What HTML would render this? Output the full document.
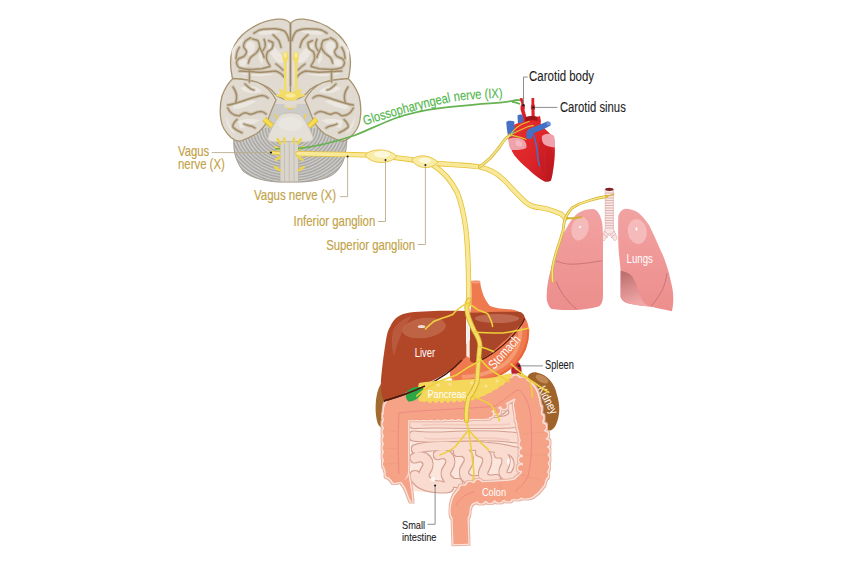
<!DOCTYPE html>
<html><head><meta charset="utf-8">
<style>
html,body{margin:0;padding:0;background:#fff;width:850px;height:567px;overflow:hidden}
svg{display:block}
text{font-family:"Liberation Sans",sans-serif}
</style></head><body>
<svg width="850" height="567" viewBox="0 0 850 567">
<rect width="850" height="567" fill="#fff"/>
<defs>
  <filter id="colOut" x="-10%" y="-10%" width="120%" height="120%">
    <feMorphology in="SourceAlpha" operator="dilate" radius="1.6" result="d2"/>
    <feFlood flood-color="#e8b4a4" result="c2"/><feComposite in="c2" in2="d2" operator="in" result="o2"/>
    <feMorphology in="SourceAlpha" operator="dilate" radius="0.9" result="d1"/>
    <feFlood flood-color="#fbe4dc" result="c1"/><feComposite in="c1" in2="d1" operator="in" result="o1"/>
    <feMerge><feMergeNode in="o2"/><feMergeNode in="o1"/><feMergeNode in="SourceGraphic"/></feMerge>
  </filter>
  <filter id="siOut" x="-10%" y="-10%" width="120%" height="120%">
    <feMorphology in="SourceAlpha" operator="dilate" radius="0.75" result="d2"/>
    <feFlood flood-color="#d6a090" result="c2"/><feComposite in="c2" in2="d2" operator="in" result="o2"/>
    <feMerge><feMergeNode in="o2"/><feMergeNode in="SourceGraphic"/></feMerge>
  </filter>
</defs>

<!-- ================= BRAIN ================= -->
<g id="brain">
  <!-- gray base (cerebellum + midbrain) -->
  <clipPath id="cbClip"><path d="M234,138 C233,150 235,160 243,171 C250,177 262,181 278,182 L302,182 C318,181 330,178 336,172 C343,165 346,157 347,138 L325,128 L256,128 Z"/></clipPath>
  <path d="M234,138 C233,150 235,160 243,171 C250,177 262,181 278,182 L302,182 C318,181 330,178 336,172 C343,165 346,157 347,138 L312,100 L270,100 Z" fill="#cdcbc8"/>
  <g clip-path="url(#cbClip)" fill="none" stroke="#aaa8a5" stroke-width="1.45"><ellipse cx="290" cy="128" rx="9.0" ry="7.6"/><ellipse cx="290" cy="128" rx="12.1" ry="10.3"/><ellipse cx="290" cy="128" rx="15.2" ry="12.9"/><ellipse cx="290" cy="128" rx="18.3" ry="15.6"/><ellipse cx="290" cy="128" rx="21.4" ry="18.2"/><ellipse cx="290" cy="128" rx="24.5" ry="20.8"/><ellipse cx="290" cy="128" rx="27.6" ry="23.5"/><ellipse cx="290" cy="128" rx="30.7" ry="26.1"/><ellipse cx="290" cy="128" rx="33.8" ry="28.7"/><ellipse cx="290" cy="128" rx="36.9" ry="31.4"/><ellipse cx="290" cy="128" rx="40.0" ry="34.0"/><ellipse cx="290" cy="128" rx="43.1" ry="36.6"/><ellipse cx="290" cy="128" rx="46.2" ry="39.3"/><ellipse cx="290" cy="128" rx="49.3" ry="41.9"/><ellipse cx="290" cy="128" rx="52.4" ry="44.5"/><ellipse cx="290" cy="128" rx="55.5" ry="47.2"/><ellipse cx="290" cy="128" rx="58.6" ry="49.8"/><ellipse cx="290" cy="128" rx="61.7" ry="52.4"/><ellipse cx="290" cy="128" rx="64.8" ry="55.1"/><ellipse cx="290" cy="128" rx="67.9" ry="57.7"/><ellipse cx="290" cy="128" rx="71.0" ry="60.4"/><ellipse cx="290" cy="128" rx="74.1" ry="63.0"/><ellipse cx="290" cy="128" rx="77.2" ry="65.6"/></g>
  <path d="M234,138 C233,150 235,160 243,171 C250,177 262,181 278,182 L302,182 C318,181 330,178 336,172 C343,165 346,157 347,138" fill="none" stroke="#a89f92" stroke-width="1"/>
  <!-- base silhouette to avoid gaps -->
  <path d="M272,88 L309,88 L303,101 L278,101 Z" fill="#e0dad0"/>
  <path d="M283,100 C287,99 294,99 298,100 L296,107 C292,109 289,109 285,107 Z" fill="#dcd7cf"/>
  <!-- left hemisphere (mirrored for right) -->
  <g id="hemi">
    <path d="M232,77 C250,79 262,82 266,84 L284,84 L284,104 L268,104 Z" fill="#e0dad0"/>
    <!-- frontal lobe -->
    <path d="M290.5,23.5 C288,20 284,18.6 277,19.2 C266,20.5 255,25 247,31 C240,36 235,43 232.5,50 C230,57 230,66 232,76 C232,78 233,79 234,79 C248,79.5 262,83 271,89.6 L277,96 L284,99 L290.5,100 Z" fill="#e0dad0" stroke="#a8936f" stroke-width="1.3"/>
    <!-- temporal lobe -->
    <path d="M233,78.5 C229,82 225,88 222,96 C220,104 220,114 221,120 C222,127 226,133 231,137.5 C234,140 238,142 242,140.5 C248,138 252,136 256,134 C262,130 266,124 268,119.6 C270,114 272,109 276,100 C272,92 266,86 258,82.5 C250,80 240,79 233,78.5 Z" fill="#e0dad0" stroke="#a8936f" stroke-width="1.3"/>
    <!-- light gyri highlights -->
    <g fill="#ece8e1">
      <path d="M257,31 C266,27.5 276,27 283,29 C280,33 272,34 264,35 C260,35 257,34 257,31 Z"/>
      <path d="M247,43 C250,40 254,41 255,45 C256,50 252,54 249,56 C246,52 245,47 247,43 Z"/>
      <path d="M239,62 C242,58 247,58 248,62 C247,66 243,67 240,66 Z"/>
      <path d="M261,50 C263,54 264,60 262,64 C258,60 258,54 261,50 Z"/>
      <path d="M268,44 C274,46 280,52 285,60 C282,66 276,62 272,56 C269,52 268,48 268,44 Z"/>
      <path d="M240,73 C250,72 262,72 274,74 C264,77 250,77 240,73 Z"/>
      <path d="M232,50 C235,44 240,40 244,38 C240,46 236,54 234,62 C232,58 231,54 232,50 Z"/>
      <path d="M240,88 C248,84 258,86 262,92 C254,94 246,94 240,88 Z"/>
      <path d="M232,104 C238,99 250,99 256,101 C250,106 240,109 234,109 Z"/>
      <path d="M238,121 C246,118 254,119 260,120 C254,124 246,128 240,128 Z"/>
      <path d="M226,116 C228,122 232,130 236,134 C230,132 226,124 226,116 Z"/>
      <path d="M288,58 C289,66 288,76 287,86 L284,86 C285,76 286,66 288,58 Z" opacity="0.6"/>
    </g>
    <!-- sulci -->
    <g fill="none" stroke="#c8bda9" stroke-width="3.6" stroke-linecap="round" stroke-linejoin="round" opacity="0.7">
      <path d="M254,33.2 C257,31 260,29.5 263,29.3 C267,28.8 271,28.6 275.4,28.7 C279,29 282,29.8 284.4,31 C286.5,33 288,36 289,40.6"/>
      <path d="M250.6,37.8 C248,39 246,40 245,41.7 C243.5,43.5 243.5,45.5 243.8,47.3 C244.5,49 246.8,50.5 246.6,51.9 C246,54 245,55.5 243.8,56.4 C242,57.5 240,57.8 238.7,58.6 C237,60 236.3,61.5 236.5,63.1 C237,65.5 238,67 239.3,67.7 C243,69 247,69.5 250.6,69.4 C254,69.3 258,69 261.9,68.8 C264.5,68 267.5,67.2 269.8,66.5"/>
      <path d="M249.4,69.4 C249.5,73 249.5,78 249.4,82"/>
      <path d="M252.3,38.9 C254,39.5 256.5,39.5 257.9,40.6 C259,42.5 259.8,45 259.6,47.3 C259,49.5 257.5,51.5 256.2,53 C254,55 252,56 250.6,57.5 C249.5,59 248.8,61 248.3,63.1"/>
      <path d="M259.6,47.3 C260.5,49 261.3,50.5 261.9,51.9 C262.8,53.5 263.6,55.5 264.1,57.5"/>
      <path d="M264.1,39.4 C265,41.5 265.5,44 265.2,46.2 C264.8,48 263.8,49.5 263,50.7"/>
      <path d="M268.6,40.6 C270,41.2 271.8,41.8 273.1,42.8 C273.2,44.5 272.8,46.5 272,48.5 C270.5,50 268.8,51 267.5,51.9 C266.5,54 266.2,56.5 266.4,58.6 C267,61 268.5,63.5 269.8,65.4"/>
      <path d="M273.1,34.9 C275,36.5 277,38.5 278.8,40.6 C279.8,42.5 280.5,45 281,47.3"/>
      <path d="M239.3,47.3 C238.2,49 237.5,50.5 237,51.9 C236.5,54 236.2,56.5 235.9,58.6"/>
      <path d="M239.3,71 C246,71.5 254,72 261.9,72.2 C266,72 271,71.5 275.4,71 C279,72 282,74 284,77"/>
      <path d="M276,64 C279,66 281,68 283,70"/>
      <path d="M233,87 C238,94 237,99 235.6,102.6"/>
      <path d="M227.7,105 C236,104 244,100 259,96 C263,95 266,96 268,98"/>
      <path d="M227.7,108 C230,113 234,116 239.5,115.7 C244,112 246,112 250,114.4 C254,114 256,112 259,111.8 C262,111 264,112 266,114"/>
      <path d="M236.9,119.6 C234,122 232,126 233,127.4 C236,130 240,132 242,132.7"/>
      <path d="M255,128 C250,124 246,126 244,124"/>
      <path d="M245,84 C249,88 252,90 254,90"/>
    </g>
    <g fill="none" stroke="#a38c68" stroke-width="1.5" stroke-linecap="round" stroke-linejoin="round">
      <path d="M254,33.2 C257,31 260,29.5 263,29.3 C267,28.8 271,28.6 275.4,28.7 C279,29 282,29.8 284.4,31 C286.5,33 288,36 289,40.6"/>
      <path d="M250.6,37.8 C248,39 246,40 245,41.7 C243.5,43.5 243.5,45.5 243.8,47.3 C244.5,49 246.8,50.5 246.6,51.9 C246,54 245,55.5 243.8,56.4 C242,57.5 240,57.8 238.7,58.6 C237,60 236.3,61.5 236.5,63.1 C237,65.5 238,67 239.3,67.7 C243,69 247,69.5 250.6,69.4 C254,69.3 258,69 261.9,68.8 C264.5,68 267.5,67.2 269.8,66.5"/>
      <path d="M249.4,69.4 C249.5,73 249.5,78 249.4,82"/>
      <path d="M252.3,38.9 C254,39.5 256.5,39.5 257.9,40.6 C259,42.5 259.8,45 259.6,47.3 C259,49.5 257.5,51.5 256.2,53 C254,55 252,56 250.6,57.5 C249.5,59 248.8,61 248.3,63.1"/>
      <path d="M259.6,47.3 C260.5,49 261.3,50.5 261.9,51.9 C262.8,53.5 263.6,55.5 264.1,57.5"/>
      <path d="M264.1,39.4 C265,41.5 265.5,44 265.2,46.2 C264.8,48 263.8,49.5 263,50.7"/>
      <path d="M268.6,40.6 C270,41.2 271.8,41.8 273.1,42.8 C273.2,44.5 272.8,46.5 272,48.5 C270.5,50 268.8,51 267.5,51.9 C266.5,54 266.2,56.5 266.4,58.6 C267,61 268.5,63.5 269.8,65.4"/>
      <path d="M273.1,34.9 C275,36.5 277,38.5 278.8,40.6 C279.8,42.5 280.5,45 281,47.3"/>
      <path d="M239.3,47.3 C238.2,49 237.5,50.5 237,51.9 C236.5,54 236.2,56.5 235.9,58.6"/>
      <path d="M239.3,71 C246,71.5 254,72 261.9,72.2 C266,72 271,71.5 275.4,71 C279,72 282,74 284,77"/>
      <path d="M276,64 C279,66 281,68 283,70"/>
      <path d="M233,87 C238,94 237,99 235.6,102.6"/>
      <path d="M227.7,105 C236,104 244,100 259,96 C263,95 266,96 268,98"/>
      <path d="M227.7,108 C230,113 234,116 239.5,115.7 C244,112 246,112 250,114.4 C254,114 256,112 259,111.8 C262,111 264,112 266,114"/>
      <path d="M236.9,119.6 C234,122 232,126 233,127.4 C236,130 240,132 242,132.7"/>
      <path d="M255,128 C250,124 246,126 244,124"/>
      <path d="M245,84 C249,88 252,90 254,90"/>
    </g>
  </g>
  <use href="#hemi" transform="translate(581,0) scale(-1,1)"/>
  <!-- midline fissure -->
  <path d="M290.5,23.5 L290.5,86" stroke="#9c8868" stroke-width="1.6" fill="none"/>
  <!-- pons -->
  <path d="M281,114.5 C285,112.5 296,112.5 300,114.5 C304,118 307,124 310,130 C312,134 313.5,137 313,139.5 C312,141.5 309,142 304,142 L277,142 C272,142 269,141.5 268,139.5 C267.5,137 269,134 271,130 C274,124 277,118 281,114.5 Z" fill="#e4e0d8" stroke="#c2b9aa" stroke-width="0.7"/>
  <ellipse cx="290.5" cy="124" rx="12" ry="7" fill="#ebe8e2" opacity="0.7"/>
  <!-- medulla -->
  <path d="M280,141.5 L298.5,141.5 L298.5,181.8 L280,181.8 Z" fill="#d9d5cd" stroke="#b5ab9a" stroke-width="0.7"/>
  <g stroke="#bfb6a8" stroke-width="0.7">
    <line x1="284.5" y1="142" x2="284.5" y2="181.5"/>
    <line x1="289.3" y1="142" x2="289.3" y2="181.5"/>
    <line x1="294" y1="142" x2="294" y2="181.5"/>
  </g>
  <!-- olfactory + chiasm -->
  <g fill="#f3dc66">
    <path d="M285.2,51.2 C288,51.2 288.6,56 288,59 C287.5,61 286.7,62 286.6,64 L286.6,90.7 L284,90.7 L284,64 C283.8,62 282.9,61 282.5,59 C282,56 282.5,51.2 285.2,51.2 Z"/>
    <path d="M296,51.2 C298.7,51.2 299.2,56 298.7,59 C298.2,61 297.4,62 297.3,64 L297.3,90.7 L294.7,90.7 L294.7,64 C294.5,62 293.6,61 293.2,59 C292.7,56 293.2,51.2 296,51.2 Z"/>
    <path d="M278.5,88.8 L284,90 C288,92.5 293,92.5 297,90 L302.5,88.8 L300,93 L306,95.8 L299,97.5 L295,100.8 L286,100.8 L282,97.5 L275,95.8 L281,93 Z"/>
  </g>
  <ellipse cx="290.5" cy="95.5" rx="5" ry="2" fill="#f9eaa0"/>
  <ellipse cx="285.2" cy="55" rx="1.4" ry="2.8" fill="#f9eba8"/><ellipse cx="296" cy="55" rx="1.4" ry="2.8" fill="#f9eba8"/>
  <path d="M283.6,106 L287,105 L290.3,108.5 L293.5,105 L296.5,106 L290.3,110 Z" fill="#efcf45"/>
  <path d="M290.3,100.6 L284,101 L285,108 L296,108 L297,101 Z" fill="#e2ddd4" opacity="0.7"/>
  <!-- trigeminal stubs -->
  <g stroke="#d9b52c" stroke-width="5.5" stroke-linecap="butt"><path d="M264.3,119 L272,126.2"/><path d="M316.7,119 L309,126.2"/></g>
  <g stroke="#f5dc52" stroke-width="3.8" stroke-linecap="butt"><path d="M264.3,119 L272,126.2"/><path d="M316.7,119 L309,126.2"/></g>
  <g stroke="#efcf45" stroke-width="1.6" stroke-linecap="round"><path d="M275.4,114.4 L276.7,118.3"/><path d="M305.6,114.4 L304.3,118.3"/></g>
  <!-- cranial nerve stubs on medulla -->
  <g stroke="#f0d448" stroke-width="2.3" stroke-linecap="round">
    <path d="M280.5,143.5 L277.5,139"/><path d="M284.5,142.5 L284,138.5"/><path d="M293.7,142.5 L294,138.5"/><path d="M298,143.5 L301,139"/>
    <path d="M279.5,149.4 L275.3,146.9"/><path d="M299,149.4 L303.2,146.9"/>
    <path d="M280.3,157 L276,159.8"/><path d="M298.3,157 L302.6,159.8"/>
    <path d="M280.3,170.4 L274.8,167"/><path d="M298.3,170.4 L303.8,167"/>
  </g>
</g>

<!-- ================= NERVES ================= -->
<g id="nerves" fill="none" stroke-linecap="round" stroke-linejoin="round">
  <g stroke="#e6c23a" stroke-width="5.2">
    <path d="M298,153.6 C330,154 350,154.6 368,155 C380,155.8 392,157 405,158.8 C415,160.3 422,161.5 430,162.8 C440,163.8 450,164.3 462,165.2 C470,165.8 476,166.3 480,167 C490,169 498,174 504,180 C512,188 520,198 528,204 C533,207 537,207.5 540,207.5 C548,209 556,211.5 561,214 C563,215.5 564.5,217 565.2,218.3"/>
    <path d="M433,165 C444,172 452,182 457,192 C462,204 464,215 466,230 C468,250 469,275 468.5,304"/>
  </g>
  <g stroke="#f8e99a" stroke-width="3.6">
    <path d="M298,153.6 C330,154 350,154.6 368,155 C380,155.8 392,157 405,158.8 C415,160.3 422,161.5 430,162.8 C440,163.8 450,164.3 462,165.2 C470,165.8 476,166.3 480,167 C490,169 498,174 504,180 C512,188 520,198 528,204 C533,207 537,207.5 540,207.5 C548,209 556,211.5 561,214 C563,215.5 564.5,217 565.2,218.3"/>
    <path d="M433,165 C444,172 452,182 457,192 C462,204 464,215 466,230 C468,250 469,275 468.5,304"/>
  </g>
  <path d="M270.5,152.3 L280,153.4" stroke="#e0bc30" stroke-width="3.6" stroke-linecap="butt"/>
  <path d="M270.5,152.3 L280,153.4" stroke="#f6e27a" stroke-width="2.2" stroke-linecap="butt"/>
  <!-- ganglia -->
  <path d="M366,154 C372,148.5 388,147.8 397,156.2 C390,164.3 374,164.8 366,156.8 Z" fill="#f8eca6" stroke="#e6c23a" stroke-width="0.9"/>
  <ellipse cx="382" cy="154.3" rx="8" ry="3.5" fill="#fdf7dc"/>
  <path d="M412.5,158.8 C418,154.5 430,154.2 438,162.3 C432,169.3 419,169.8 412.5,161.3 Z" fill="#f8eca6" stroke="#e6c23a" stroke-width="0.9"/>
  <ellipse cx="425" cy="160.5" rx="6" ry="2.8" fill="#fdf7dc"/>
</g>

<!-- glossopharyngeal -->
<path d="M275,149 L280,148.6 M298,148.6 C318,146.5 338,141 355,135.3 C370,129 385,122 395.2,118.2 C410,113 425,110 440,108.1 C455,106.5 470,104.5 490,103.3 C500,103 508,102 516.6,99.9 L521,100.4 M512,101.8 C515,102 518,103 520,104" fill="none" stroke="#67b252" stroke-width="1.7"/>
<path id="gptext" d="M365,125.5 C390,117 420,108.5 450,102 C470,99 490,98 506,97.5" fill="none"/>
<text font-size="13.5" fill="#4fb64a" stroke="#4fb64a" stroke-width="0.15"><textPath href="#gptext" textLength="141" lengthAdjust="spacingAndGlyphs">Glossopharyngeal nerve (IX)</textPath></text>

<!-- ================= HEART ================= -->
<defs>
  <linearGradient id="heartG" x1="0" y1="0" x2="1" y2="1">
    <stop offset="0" stop-color="#e8302e"/><stop offset="0.6" stop-color="#dc2328"/><stop offset="1" stop-color="#b8161e"/>
  </linearGradient>
</defs>
<g id="heart">
  <!-- carotids -->
  <path d="M519.6,98.2 L522.4,98 L524,104 C525,106 525,108 524.5,110 L527,119 L523.5,120 L521,111 C520,108.5 520.5,106 521.5,104 Z" fill="#dd1f26"/>
  <path d="M531.5,98 L534.2,98 L534.2,104 C535.2,106 535.5,108 534.5,110.5 L535,121 L531.5,121 L531.5,110.5 C530.5,108 530.8,106 531.5,104 Z" fill="#dd1f26"/>
  <path d="M520,122 C524,117 534,116 540,119 L541,125 L522,127 Z" fill="#e02428"/>
  <path d="M525,117.5 C530,115.5 536,115.5 539.5,118 L539,121 C534,119.5 529,120 525.5,122 Z" fill="#9e1418"/>
  <path d="M537,117 L540,116 L541,122 L538,123 Z" fill="#dd1f26"/>
  <!-- blue back vessel -->
  <path d="M517.5,115.5 C519,114 522,114 523,115.5 L523.5,124 L518,125 Z" fill="#4570c4"/>
  <!-- body -->
  <path d="M511,126.7 C516,123 522,122 528.6,122 C536,122.5 542,125 546,130 C550,133 553,137 554,141 C555,146 555,151 554.8,155.3 C554.5,160 554,165 553.2,169.6 C552.5,174 552,178 550.8,180.7 C549,182 546.5,182 544.4,181.5 C538,178 533,174 528.6,169.6 C523,165 518,160 514.3,155.3 C511.5,151 510,146 508.7,141 C508,137 508.5,134 509.5,131.5 Z" fill="url(#heartG)"/>
  <path d="M540,140 C548,142 554,150 554,162 C553,172 552,178 550.8,180.7 C546,178 540,168 538,156 Z" fill="#b8161e" opacity="0.35"/>
  <!-- atria pink -->
  <path d="M508.7,139 C512,137 518,137.5 522,139 C526,141 527,145 526.2,148 C522,150 516,150.5 511,149.8 C509,147 508.5,143 508.7,139 Z" fill="#f0a2ac"/>
  <path d="M516,140 C520,140 523,142 522,146 C518,147 514,146 516,140 Z" fill="#f6c2c8" opacity="0.7"/>
  <path d="M542,136 C546,133 551,133 554,136 C555.5,140 555,144 554.8,147.4 C550,147 545,146 543,143 C542,141 541.5,138 542,136 Z" fill="#f0a2ac"/>
  <!-- blue vessels -->
  <path d="M506.3,122 C508,120.5 512,120.5 514.3,121.5 L514.8,131 L512,137 L508,136 C507,131 506.5,126 506.3,122 Z" fill="#4570c4"/>
  <path d="M547,121.5 C549,121 551,123 550.5,125.5 C546,128 540,131 534,133 L531,138.7 C529,139.5 527,139 526.5,137.5 C526,134 526.5,131 528,129.5 C534,127 541,124 547,121.5 Z" fill="#4570c4"/>
  <ellipse cx="548.5" cy="123.5" rx="2.2" ry="2" fill="#6a92d8"/>
  <path d="M533.5,134.7 C536,142 537.5,150 538,158.5 C538.5,162 539,164 539.7,166.4" stroke="#4570c4" stroke-width="1.6" fill="none"/>
  <path d="M520,152 C524,158 530,164 534,168 M545,150 C544,158 544,166 546,174" stroke="#c8343a" stroke-width="0.5" fill="none" opacity="0.7"/>
</g>
<!-- heart nerve branch -->
<g fill="none" stroke-linecap="round" stroke-linejoin="round">
  <path d="M479.5,167 C485,163 488,160 491,157.3 C494,154 497,150 499.6,146.7 C502,143 504,140 506,138.3 C507.5,137 509,136 510.2,135" stroke="#d4b02e" stroke-width="3"/>
  <path d="M479.5,167 C485,163 488,160 491,157.3 C494,154 497,150 499.6,146.7 C502,143 504,140 506,138.3 C507.5,137 509,136 510.2,135" stroke="#f4e488" stroke-width="1.6"/>
  <g stroke="#e0c23a" stroke-width="1.1">
    <path d="M510.2,135 C512,132 514,130 516.5,127.7 C520,125 524,123 529.2,121.3"/>
    <path d="M510.2,135 C516,132 522,129 527,127 C530,126 532,125.8 533.4,125.6"/>
    <path d="M510.2,135 C515,136 520,137 526,139.3"/>
  </g>
</g>

<!-- ================= LUNGS ================= -->
<defs>
  <linearGradient id="lungG" x1="0" y1="0" x2="0" y2="1">
    <stop offset="0" stop-color="#f2a2a2"/><stop offset="1" stop-color="#ec8e8c"/>
  </linearGradient>
  <linearGradient id="shadG" x1="0" y1="0" x2="0.3" y2="1">
    <stop offset="0" stop-color="#b66a6a"/><stop offset="0.6" stop-color="#dc9090"/><stop offset="1" stop-color="#f0a8a6"/>
  </linearGradient>
</defs>
<g id="lungs">
  <!-- trachea -->
  <path d="M605.2,189 L613.5,189 L613.5,229 L617.5,238.5 L614.5,241 L609.4,233 L604,241 L601.5,238.5 L605.2,229 Z" fill="#f6e6e4" stroke="#d9a0a0" stroke-width="0.5"/>
  <ellipse cx="609.3" cy="189.3" rx="4.2" ry="1.6" fill="#7e2424"/>
  <g stroke="#cf8a8a" stroke-width="0.55">
    <line x1="605.2" y1="193" x2="613.5" y2="193"/><line x1="605.2" y1="195.5" x2="613.5" y2="195.5"/><line x1="605.2" y1="198" x2="613.5" y2="198"/><line x1="605.2" y1="200.5" x2="613.5" y2="200.5"/>
    <line x1="605.2" y1="203" x2="613.5" y2="203"/><line x1="605.2" y1="205.5" x2="613.5" y2="205.5"/><line x1="605.2" y1="208" x2="613.5" y2="208"/><line x1="605.2" y1="210.5" x2="613.5" y2="210.5"/>
    <line x1="605.2" y1="213" x2="613.5" y2="213"/><line x1="605.2" y1="215.5" x2="613.5" y2="215.5"/><line x1="605.2" y1="218" x2="613.5" y2="218"/><line x1="605.2" y1="220.5" x2="613.5" y2="220.5"/>
    <line x1="605.2" y1="223" x2="613.5" y2="223"/><line x1="605.2" y1="225.5" x2="613.5" y2="225.5"/><line x1="605.2" y1="228" x2="613.5" y2="228"/>
    <line x1="604.5" y1="231" x2="609.4" y2="236"/><line x1="603.5" y1="234" x2="608" y2="238"/><line x1="614.2" y1="231" x2="609.4" y2="236"/><line x1="615.3" y1="234" x2="611" y2="238"/>
  </g>
  <!-- left lung -->
  <path d="M592.8,209 C597,209 600,214 602,221.7 C603,228 603,236 603,242 L603,295 C603,301 601.5,305 598.5,306.6 C590,309 582,310 574.4,310 C566,310 558,310 551.5,309 C547,305 546,298 546.9,292.9 C547,286 548,282 549,276.8 C551,268 553,260 556,251.6 C559,243 563,234 567.5,226.3 C571,220 575,215 579,212.5 C583,210 588,209 592.8,209 Z" fill="url(#lungG)"/>
  <path d="M555,260.7 C561,263 566,264.2 572,264.2 C582,264 592,262.5 602,260.7" stroke="#b06264" stroke-width="0.6" fill="none"/>
  <path d="M556,281.4 C559,288 562,294 565.2,297.5 C569,302 572,306 576.7,309" stroke="#b06264" stroke-width="0.6" fill="none"/>
  <ellipse cx="580" cy="228.6" rx="8.5" ry="12" transform="rotate(15 580 228.6)" fill="#f5baba"/>
  <ellipse cx="580" cy="227" rx="1.6" ry="0.8" transform="rotate(-40 580 227)" fill="#fff"/>
  <!-- right lung -->
  <path d="M625.4,208.8 C622,209.5 619.5,212 618.3,216 C618,225 618.2,235 618.3,244.6 C618.8,255 620,262 620.6,270.8 L620.6,297 C621.5,300 624,302 626.6,303 C634,305 642,306 650.4,306.6 C657,308 665,310 671.9,311.3 C673.5,305 673.5,298 673,292.3 C672,285 670,278 668.3,270.8 C666,263 664,257 661.2,251.7 C657,242 653,233 649.3,225.5 C645,219 641,214 636,211.2 C632,209.5 628.5,208.5 625.4,208.8 Z" fill="url(#lungG)"/>
  <path d="M620.6,270.8 C626,272 629,273 631.4,275.6 C634,279 636,283 637.3,287.5 C639,293 641,298 643.3,301.8 C645,304 647,305.5 650.4,306.6 C642,306 634,305 626.6,303 C624,302 621.5,300 620.6,297 Z" fill="url(#shadG)"/>
  <path d="M667,273 C666,280 664.5,285 662.4,289.9 C659,296 655,302 650.4,306.6" stroke="#b06264" stroke-width="0.6" fill="none"/>
  <ellipse cx="637.3" cy="231.5" rx="9.5" ry="12.5" transform="rotate(-10 637.3 231.5)" fill="#f5baba"/>
  <ellipse cx="636.5" cy="229" rx="0.9" ry="1.8" transform="rotate(-10 636.5 229)" fill="#fff"/>
  <text x="626.6" y="262.5" font-size="12" fill="#fff" textLength="26.2" lengthAdjust="spacingAndGlyphs">Lungs</text>
</g>
<!-- lung nerve overlay -->
<g fill="none" stroke-linecap="round" stroke-linejoin="round">
  <g stroke="#d4b02e">
    <path d="M565.2,218.3 C568,212 570,210 572,208 C578,204 584,202 588,201 C594,199 600,197.5 606.6,196.5" stroke-width="2.8"/>
    <path d="M565.2,218.3 C563.5,224 563.5,228 563,231 C561,238 559,244 557.2,249.3 C555,256 553.5,262 552.6,267.6 C552,273 552.3,277 552.6,281.4" stroke-width="2.8"/>
    <path d="M565.2,218.3 C569,218 572,218.3 574.4,218.3 C577,217.8 579,217.4 581.3,217" stroke-width="2"/>
  </g>
  <g stroke="#f4e488">
    <path d="M565.2,218.3 C568,212 570,210 572,208 C578,204 584,202 588,201 C594,199 600,197.5 606.6,196.5" stroke-width="1.4"/>
    <path d="M565.2,218.3 C563.5,224 563.5,228 563,231 C561,238 559,244 557.2,249.3 C555,256 553.5,262 552.6,267.6 C552,273 552.3,277 552.6,281.4" stroke-width="1.4"/>
  </g>
  <path d="M606,196.6 C609,196 611,195 614,194" stroke="#d4b02e" stroke-width="1.2"/>
</g>

<!-- ================= ABDOMEN ================= -->
<g id="abdomen">
  <!-- kidneys -->
  <path d="M381,384 C375,392 374,414 378,424 C381,430 388,430 392,424 L395,384 Z" fill="#a46a2d"/>
  <path d="M527.4,377 C530,372 534,372 537.3,372.7 C547,374 555,384 557,395 C560,404 560,414 557,422 C555,428 552,431 548.6,430.5 C540,428 534,410 530,395 C528,388 527,382 527.4,377 Z" fill="#a0632a"/>
  <ellipse cx="542" cy="379" rx="7" ry="3.5" transform="rotate(28 542 379)" fill="#c48e5c" opacity="0.85"/>
  <!-- spleen -->
  <path d="M513,363 C517,360 521,363 521.5,369 C522,375 519,379 515,378.6 C511,377 510,368 513,363 Z" fill="#b8202c"/>
  <path d="M514,366 C516,364 518,366 518,370 C516,372 514,370 514,366 Z" fill="#e06a78" opacity="0.6"/>
  <!-- small intestine base -->
  <path d="M410.9,414 L521,412 L522,470 C515,478 500,482 490,482 C476,484 466,488 456,491 C440,494 424,493 411,490 Z" fill="#fbe6de"/>
  <g filter="url(#siOut)" fill="none" stroke="#f9dbd0" stroke-linecap="round" stroke-linejoin="round">
    <path d="M414,423 C440,421 480,425 518,422" stroke-width="10"/>
    <path d="M414,436 C440,440 470,432 518,438" stroke-width="9"/>
    <path d="M416,449 C432,444 448,447 462,446 C478,445 500,448 518,452" stroke-width="8"/>
    <path d="M415,458 C424,454 432,462 426,470 C420,478 428,486 440,486" stroke-width="9"/>
    <path d="M438,455 C448,451 454,460 448,468 C442,476 450,484 458,483" stroke-width="8"/>
    <path d="M458,452 C468,450 472,459 466,467 C460,475 468,482 476,480" stroke-width="8"/>
    <path d="M480,452 C490,454 488,463 484,470 C480,478 488,481 496,479" stroke-width="8"/>
    <path d="M498,454 C506,452 508,461 504,468 C500,476 508,479 515,475" stroke-width="7"/>
    <path d="M511,452 C519,456 519,468 515,473" stroke-width="6"/>
    <path d="M415,476 C420,485 432,489 448,487" stroke-width="10"/>
    <path d="M500,412 C506,406 510,404 512,410 C514,416 508,420 500,420" stroke-width="6"/>
  </g>
  <g fill="none" stroke="#f1c6b8" stroke-width="1.6" opacity="0.8">
    <path d="M422,425 C440,423 480,427 510,424"/>
    <path d="M424,438 C440,442 470,434 510,440"/>
  </g>
  <g fill="#ffffff" opacity="0.85">
    <path d="M430,479 C433,476 436,477 435,481 C433,482 431,481 430,479 Z"/>
    <path d="M507,460 C508.5,457 510,458 509.5,463 C509,466 507,465 507,460 Z"/>
  </g>
  <!-- colon -->
  <g filter="url(#colOut)">
    <g fill="none" stroke="#f5a286">
      <path d="M396,466 L396,412 C396,408 398,407 401,407 L489,406" stroke-width="24.5" stroke-linejoin="round"/>
      <path d="M400,412 L489,410" stroke-width="17"/>
      <path d="M478,405.5 C488,402 498,396 508,390 C512,388.5 514,388 516,388 C521,388.5 525,391 527.5,397 C529,402 530,408 530.5,416" stroke-width="21" stroke-linecap="round"/>
      <path d="M526.5,405 C529,420 533,438 535,450 C535.5,458 535.5,466 535,470 C534,478 531,483 526,486" stroke-width="25" stroke-linecap="round"/>
      <path d="M530,482 C524,488 514,490 505,490.5 L478,492 C466,493 460,500 460,512" stroke-width="19" stroke-linejoin="round" stroke-linecap="round"/>
      <path d="M460,510 C460,520 460.5,532 461,544" stroke-width="15"/>
    </g>
    <path d="M383.8,462 C384,472 389,480.5 396,482 C403,483 407,479 408.2,472 L408.2,462 Z" fill="#f5a286"/>
    <path d="M400,480.5 C404,481 407,479 408.5,475 C410,484 412,494 412.5,502 C411,502 409.5,499 407.5,493 C405.5,487 403,484 400,480.5 Z" fill="#f5a286"/>
    <g fill="#f5a286">
      <circle cx="386.5" cy="416" r="3.5"/><circle cx="386" cy="424" r="3.5"/><circle cx="386" cy="432" r="3.5"/><circle cx="386" cy="440" r="3.5"/><circle cx="386" cy="448" r="3.5"/><circle cx="386" cy="456" r="3.5"/><circle cx="386.5" cy="464" r="3.5"/><circle cx="389" cy="474" r="3.5"/><circle cx="395" cy="480" r="3"/>
      <circle cx="413" cy="417" r="3"/><circle cx="420" cy="417.5" r="3"/><circle cx="427" cy="417.5" r="3"/><circle cx="434" cy="417.5" r="3"/><circle cx="441" cy="417.5" r="3"/><circle cx="448" cy="417" r="3"/><circle cx="455" cy="417" r="3"/><circle cx="462" cy="417" r="3"/><circle cx="469" cy="416.5" r="3"/><circle cx="476" cy="416" r="3"/><circle cx="483" cy="416" r="3"/><circle cx="490" cy="414" r="3"/><circle cx="497" cy="411" r="3"/><circle cx="504" cy="406" r="3"/>
      <circle cx="494" cy="388" r="3.5"/><circle cx="501" cy="383.5" r="3.5"/><circle cx="508" cy="380" r="3.5"/><circle cx="515.5" cy="379" r="3.5"/><circle cx="523" cy="381" r="3.5"/><circle cx="527.5" cy="386" r="3.5"/><circle cx="532" cy="393" r="3.5"/>
      <circle cx="535.5" cy="401" r="3.5"/><circle cx="538" cy="409" r="3.5"/><circle cx="540" cy="418" r="3.5"/><circle cx="542.5" cy="427" r="3.5"/><circle cx="544.5" cy="435" r="3.5"/><circle cx="546" cy="443" r="3.5"/><circle cx="546" cy="451" r="3.5"/><circle cx="546" cy="459" r="3.5"/><circle cx="545.5" cy="467" r="3.5"/><circle cx="544.5" cy="475" r="3.5"/><circle cx="541" cy="483" r="3.5"/><circle cx="534" cy="489" r="3.5"/><circle cx="526" cy="492.5" r="3.5"/>
      <circle cx="518.5" cy="418" r="3"/><circle cx="520.5" cy="427" r="3"/><circle cx="522.5" cy="436" r="3"/><circle cx="522.5" cy="444" r="3"/><circle cx="522.5" cy="452" r="3"/><circle cx="522" cy="460" r="3"/><circle cx="521" cy="468" r="3"/>
      <circle cx="517" cy="496" r="3.5"/><circle cx="508" cy="498" r="3.5"/><circle cx="499" cy="499" r="3.5"/><circle cx="490" cy="499.5" r="3.5"/><circle cx="481" cy="500" r="3.5"/>
      <circle cx="470" cy="485.5" r="3.5"/><circle cx="478" cy="483.5" r="3.5"/><circle cx="463" cy="489" r="3.5"/>
    </g>
  </g>
  <!-- taenia lines -->
  <g fill="none" stroke="#e9727c" stroke-width="0.7" opacity="0.75">
    <path d="M399,474 C398,450 398,430 399,413 C420,410 470,409 495,406 C505,400 512,392 518,390 C524,392 530,404 531,420 C532,440 532,460 528,476 C524,484 520,488 515,491"/>
    <path d="M456,505 C460,498 466,494 474,492"/>
  </g>
  <g fill="none" stroke="#e4917c" stroke-width="0.6" opacity="0.6">
    <path d="M385,430 L398,432"/><path d="M385,448 L398,449"/><path d="M385,464 L398,463"/>
    <path d="M523,434 L546,432"/><path d="M523,455 L546,455"/><path d="M518,474 L542,480"/><path d="M500,482 L502,500"/>
  </g>
  <!-- stomach -->
  <path d="M471.2,280.7 L480,280.7 C481,290 484,299 490,306 C497,309 505,309 512,309.5 C521,311 527,317 528.5,327 C530,338 527,349 521,358 C513,369 501,377 488,380 C474,383 460,382.5 450,378 L450,362 L470,340 L470,313 C472,306 471.5,290 471.2,280.7 Z" fill="#f07a4f"/>
  <path d="M520,326 C522,340 516,354 506,363 C496,371 480,376 462,377" fill="none" stroke="#f6a27c" stroke-width="4" opacity="0.8"/>
  <path d="M528,328 C529,342 524,354 516,363 C506,373 492,380 474,382.5 C466,383 458,382 452,380" fill="none" stroke="#e9602e" stroke-width="2.2" opacity="0.8"/>
  <ellipse cx="476" cy="282" rx="4.4" ry="1.5" fill="#f29a78"/>
  <!-- liver right lobe -->
  <path d="M390.5,326 C394,318 400,314 410,312.5 C425,311 445,310.5 466,311 L466,357 C455,368 440,378 423,385 C408,391 396,398 384,401 C381,395 380.5,388 381,380 C382,368 384,352 386,340 C387,334 388,330 390.5,326 Z" fill="#b14727"/>
  <ellipse cx="424" cy="328" rx="22" ry="10" transform="rotate(-8 424 328)" fill="#c46c50" opacity="0.75"/>
  <path d="M393,330 C398,322 404,318 412,316 C404,326 398,340 394,356 C392,350 391,340 393,330 Z" fill="#c46c50" opacity="0.5"/>
  <ellipse cx="421.5" cy="326.5" rx="3.8" ry="1.6" fill="#f2dcd4"/>
  <!-- liver left lobe over stomach -->
  <path d="M470,312.8 C485,312 505,311.5 518.8,311.8 C522,312 525,315 524.6,318.6 C522,324 518,328 515,330 C510,336 506,340 503,342 C497,348 492,352 487.7,355.5 C483,359 480,362 476,363 C473,363 470,362 470,360 Z" fill="#a94529"/>
  <ellipse cx="497" cy="318.5" rx="22" ry="4.5" fill="#c4705a" opacity="0.8"/>
  <path d="M384,401 C398,397 412,392 425,386 C440,379 452,371 462,360" fill="none" stroke="#4f1a10" stroke-width="1.4"/>
  <path d="M476,363 C490,356 505,345 515,333 C520,327 524,321 524.6,318.6" fill="none" stroke="#4f1a10" stroke-width="1.2"/>
  <path d="M466.5,314 L469.5,314 L469.5,358 L466.5,356 Z" fill="#f4eeea"/>
  <text x="414.8" y="356.7" font-size="12" fill="#fff" textLength="20.4" lengthAdjust="spacingAndGlyphs">Liver</text>
  <!-- pancreas -->
  <path d="M419,383 C432,381 446,380.5 452,380.6 C465,379.5 478,378.5 487.6,378.2 C496,377 503,375 509,373.5 C512,373.5 513,375 511.5,377 C508,380 505,383 501.8,385.3 C495,390 488,394 480.6,397 C472,400 468,400.6 464,400.6 C450,401 434,401.5 419.4,401.5 C417,395 417,389 419,383 Z" fill="#f5d75c"/>
  <g fill="#f5d75c">
    <circle cx="424.0" cy="399.8" r="2.2"/><circle cx="430.0" cy="400.8" r="2.2"/><circle cx="436.0" cy="400.8" r="2.2"/><circle cx="442.0" cy="400.8" r="2.2"/><circle cx="448.0" cy="400.6" r="2.2"/><circle cx="454.0" cy="400.3" r="2.2"/><circle cx="460.0" cy="400.1" r="2.2"/><circle cx="466.0" cy="399.6" r="2.2"/><circle cx="472.0" cy="398.3" r="2.2"/><circle cx="478.0" cy="396.3" r="2.2"/><circle cx="484.0" cy="393.8" r="2.2"/><circle cx="490.0" cy="390.8" r="2.2"/><circle cx="496.0" cy="387.3" r="2.2"/><circle cx="502.0" cy="383.3" r="2.2"/><circle cx="507.0" cy="378.8" r="2.2"/>
  </g>
  <g fill="#f9e8a0" opacity="0.8">
    <circle cx="438" cy="385" r="1.8"/><circle cx="450" cy="384" r="1.6"/><circle cx="472" cy="383" r="1.8"/><circle cx="486" cy="386" r="1.6"/><circle cx="497" cy="381" r="1.5"/><circle cx="430" cy="396" r="1.5"/><circle cx="462" cy="396" r="1.6"/>
  </g>
  <!-- gallbladder -->
  <path d="M407,392 C410,387 418,386 423.5,388 C422,396 416,401 409,401.8 C406,400 405,396 407,392 Z" fill="#2ca746"/>
  <path d="M384,401 C398,397 412,392 425,386" fill="none" stroke="#4f1a10" stroke-width="1.4"/>
  <text x="427.4" y="398" font-size="11.5" fill="#fff" textLength="38.9" lengthAdjust="spacingAndGlyphs">Pancreas</text>
  <text x="481.9" y="496" font-size="11.5" fill="#fff" textLength="24.3" lengthAdjust="spacingAndGlyphs">Colon</text>
  <text font-size="13" fill="#fff" transform="translate(494,370) rotate(-48)" textLength="40.5" lengthAdjust="spacingAndGlyphs">Stomach</text>
  <text font-size="12" fill="#fff" transform="translate(537.5,388.5) rotate(63)" textLength="30" lengthAdjust="spacingAndGlyphs">Kidney</text>
</g>
<!-- abdominal nerves -->
<g fill="none" stroke-linecap="round" stroke-linejoin="round">
  <g stroke="#d8b22a" stroke-width="5">
    <path d="M469,300 L467.3,303 C466,310 467,316 474,330.3 C479,338 480,343 480,346 C479,352 479,356 477,382 C474,390 470,396 468.8,397 C466,408 466,414 466.5,420.6"/>
  </g>
  <g stroke="#f4df6a" stroke-width="3.3">
    <path d="M469,300 L467.3,303 C466,310 467,316 474,330.3 C479,338 480,343 480,346 C479,352 479,356 477,382 C474,390 470,396 468.8,397 C466,408 466,414 466.5,420.6"/>
  </g>
  <g stroke="#ecd03c" stroke-width="1.6">
    <path d="M467.3,303 C462,306 458,308 452.7,314.4 C444,318 436,320 433,322 C430,325 427,327 425.5,329"/>
    <path d="M467.3,303 C472,306 476,308 478,309.9 C484,312 487,313 487.7,313.7 C490,318 492,322 492.6,326.4"/>
    <path d="M474,332 C485,333 495,333 503,333 C512,332 520,330 528.5,328.3"/>
    <path d="M480,346.8 C485,348 490,350 493.5,351.6"/>
    <path d="M479,357 C484,364 490,370 495.5,373 C500,376 505,379 509,382"/>
    <path d="M479,361.3 C470,366 462,371 456.6,374.9 C450,377 446,379 440,381 C430,386 422,390 416.7,396"/>
    <path d="M473.5,397 C480,399 486,402 490,404 C494,408 497,414 499.4,420.6"/>
    <path d="M511,364 C518,370 525,376 530,380.6 C532,388 532,392 532.4,397"/>
    <path d="M518,373.5 C525,377 530,380 534.7,383 C540,387 545,390 548.8,392.4"/>
    <path d="M466.5,420.6 C467,425 468,428 468.7,430 C462,438 458,444 455,447 C450,451 446,453 440,455"/>
    <path d="M468.7,430 C470,440 472,455 473.7,470 C474,474 474,477 473,480"/>
    <path d="M468.7,430 C475,438 482,444 488.8,450"/>
  </g>
</g>

<!-- ================= LABELS ================= -->
<g fill="none" stroke="#b9ad8c" stroke-width="0.9">
  <path d="M211.7,152.6 L271,152.6"/>
  <path d="M347.6,156.4 L347.6,196.6 L340,196.6"/>
  <path d="M385.5,160 L385.5,221.5 L378,221.5"/>
  <path d="M425.4,165 L425.4,244.5 L417.6,244.5"/>
</g>
<g fill="none" stroke="#808080" stroke-width="0.9">
  <path d="M523.5,105.2 L523.5,77 L527.7,77"/>
  <path d="M533.4,107.4 L557.4,107.4"/>
  <path d="M519,365.9 L542.9,365.9"/>
  <path d="M435.1,485.5 L435.1,524.3 L427.4,524.3"/>
</g>
<g fill="#222">
  <circle cx="347.6" cy="156.4" r="1"/><circle cx="385.5" cy="160" r="1"/><circle cx="425.4" cy="165" r="1"/>
  <circle cx="523.5" cy="105.2" r="1.2"/><circle cx="533.4" cy="107.4" r="1.2"/><circle cx="519" cy="365.9" r="1.2"/><circle cx="435.1" cy="485.5" r="1.1"/><circle cx="271" cy="152.6" r="1.1"/>
</g>
<g font-size="14.5" fill="#c2a246" stroke="#c2a246" stroke-width="0.15">
  <text x="178" y="155.6" textLength="31.2" lengthAdjust="spacingAndGlyphs">Vagus</text>
  <text x="178" y="168.7" textLength="46.8" lengthAdjust="spacingAndGlyphs">nerve (X)</text>
  <text x="254" y="200.3" textLength="82" lengthAdjust="spacingAndGlyphs">Vagus nerve (X)</text>
  <text x="293.6" y="226.1" textLength="81.7" lengthAdjust="spacingAndGlyphs">Inferior ganglion</text>
  <text x="326.2" y="249.5" textLength="88.9" lengthAdjust="spacingAndGlyphs">Superior ganglion</text>
</g>
<g font-size="13.8" fill="#1e1e1e" stroke="#1e1e1e" stroke-width="0.1">
  <text x="529.1" y="81.2" textLength="65" lengthAdjust="spacingAndGlyphs">Carotid body</text>
  <text x="559.9" y="111.6" textLength="65.9" lengthAdjust="spacingAndGlyphs">Carotid sinus</text>
  <text x="545" y="369.1" font-size="12.5" textLength="28.9" lengthAdjust="spacingAndGlyphs">Spleen</text>
  <text x="402" y="529" font-size="11.5" textLength="23" lengthAdjust="spacingAndGlyphs">Small</text>
  <text x="402" y="540.5" font-size="11.5" textLength="34.5" lengthAdjust="spacingAndGlyphs">intestine</text>
</g>
</svg>
</body></html>
